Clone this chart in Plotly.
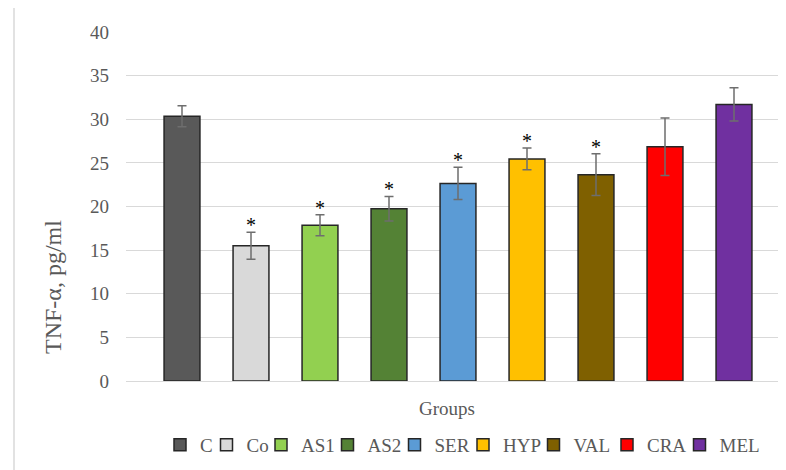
import plotly.graph_objects as go

groups = ["C", "Co", "AS1", "AS2", "SER", "HYP", "VAL", "CRA", "MEL"]
means = [30.35, 15.5, 17.85, 19.75, 22.65, 25.45, 23.65, 26.85, 31.7]
errors = [1.2, 1.55, 1.2, 1.4, 1.85, 1.25, 2.4, 3.3, 1.9]
significant = [False, True, True, True, True, True, True, False, False]
colors = ["#595959", "#d9d9d9", "#92d050", "#548235", "#5b9bd5",
          "#ffc000", "#7f6000", "#ff0000", "#7030a0"]
y_ticks = [0, 5, 10, 15, 20, 25, 30, 35, 40]

# legend entry widths (px) to mimic the reference spacing
legend_widths = [1.5, 9.5, 21.5, 22, 23.5, 25.5, 28.5, 27.5, 40]

FONT = "Times New Roman, Liberation Serif, serif"
GREY = "#595959"

# page body has an 8px margin; plot area in screen px: x 126..794, y 32..381
L, T, B = 118, 24, 97
PW = 786 - L
PH = 470 - T - B


def px(sx):
    return (sx - 126) / PW


def py(sy):
    return (381 - sy) / PH


fig = go.Figure()
for g, m, e, c, lw in zip(groups, means, errors, colors, legend_widths):
    fig.add_trace(go.Bar(
        x=[g], y=[m], name=g, width=0.52, legendwidth=lw,
        marker=dict(color=c, line=dict(color="#262626", width=1.5)),
        error_y=dict(type="data", array=[e], visible=True,
                     color="#6e6e6e", thickness=1.5, width=4.5),
    ))

annotations = []
for g, m, e, s in zip(groups, means, errors, significant):
    if s:
        annotations.append(dict(
            x=g, y=m + e, xref="x", yref="y", text="*", showarrow=False,
            yanchor="bottom", yshift=-6,
            font=dict(family=FONT, size=20, color="#000000"),
        ))

annotations.append(dict(
    text="TNF-α, pg/ml", xref="paper", yref="paper",
    x=px(53), y=py(287), textangle=-90,
    showarrow=False, xanchor="center", yanchor="middle",
    font=dict(family=FONT, size=24, color=GREY),
))
annotations.append(dict(
    text="Groups", xref="paper", yref="paper",
    x=px(447), y=py(408),
    showarrow=False, xanchor="center", yanchor="middle",
    font=dict(family=FONT, size=19, color=GREY),
))

x0 = -0.8116
x1 = x0 + PW / 69.0

fig.update_layout(
    width=786, height=470,
    margin=dict(l=L, r=0, t=T, b=B, autoexpand=False),
    paper_bgcolor="white", plot_bgcolor="white",
    barmode="overlay",
    font=dict(family=FONT, size=19, color=GREY),
    annotations=annotations,
    showlegend=True,
    legend=dict(
        orientation="h", x=px(160), xanchor="left",
        y=py(445), yanchor="middle",
        font=dict(family=FONT, size=19, color=GREY),
        itemwidth=30, tracegroupgap=0,
    ),
    shapes=[dict(type="line", xref="paper", yref="paper",
                 x0=px(14), x1=px(14),
                 y0=-1, y1=2, line=dict(color="#d9d9d9", width=1.5))],
)
fig.update_xaxes(
    type="category", categoryorder="array", categoryarray=groups,
    range=[x0, x1], showticklabels=False, ticks="",
    showgrid=False, zeroline=False, showline=False,
)
fig.update_yaxes(
    range=[0, 40], tickvals=y_ticks, ticktext=[str(v) for v in y_ticks],
    showgrid=True, gridcolor="#d9d9d9", gridwidth=1.3,
    zeroline=True, zerolinecolor="#d9d9d9", zerolinewidth=1.3,
    showline=False, ticks="", ticklabelstandoff=16,
    tickfont=dict(family=FONT, size=19, color=GREY),
)

fig.write_html("out.html")
